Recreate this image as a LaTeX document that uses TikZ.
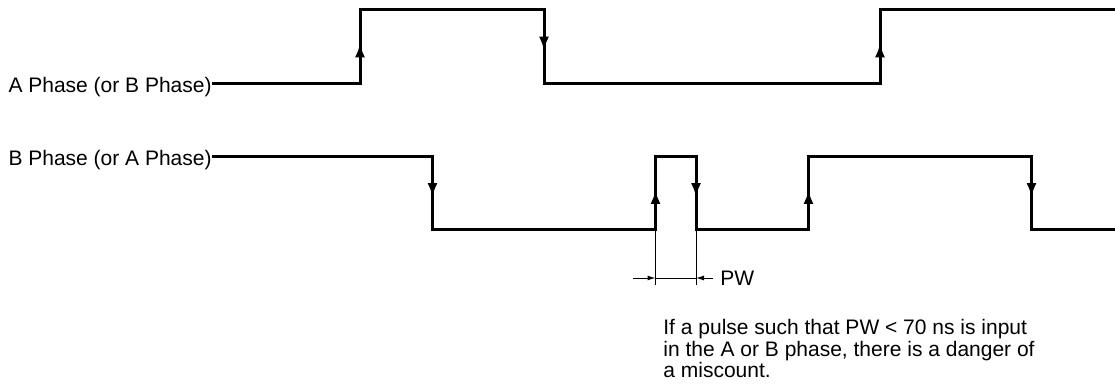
\documentclass[tikz,border=0pt]{standalone}
\usepackage{fontspec}
\setmainfont{Liberation Sans}
\usetikzlibrary{arrows.meta,calc,decorations.markings}

\begin{document}
\begin{tikzpicture}[x=0.5pt,y=-0.5pt,
  wave/.style={line width=1.5pt,line join=miter},
  edgemark/.style={postaction={decorate},decoration={markings,
    mark=at position 0.55 with {\arrow{Latex[length=7pt,width=5pt]}}}},
  thinline/.style={line width=0.5pt},
  dimarrow/.style={line width=0.5pt,-{Latex[length=4pt,width=2.5pt]}},
  lab/.style={inner sep=0pt,font=\fontsize{10.5}{12}\selectfont}]
  \useasboundingbox (0,0) rectangle (1115,390);
  % A phase
  \coordinate (a0) at (212,84);
  \node[lab,anchor=base east] (labA) at (212,93) {A Phase (or B Phase)};
  \draw[wave] (a0) -- (360,84) -- (360,10) -- (544,10) -- (544,84) -- (880,84) -- (880,10) -- (1115,10);
  \draw[wave,edgemark] (360,84) -- (360,10);
  \draw[wave,edgemark] (544,10) -- (544,84);
  \draw[wave,edgemark] (880,84) -- (880,10);
  % B phase
  \coordinate (b0) at (212,157);
  \node[lab,anchor=base east] (labB) at (212,166) {B Phase (or A Phase)};
  \coordinate (p1) at (655.5,230); \coordinate (p2) at (696,230);
  \draw[wave] (b0) -- (432.5,157) -- (432.5,230) -- (p1) -- (655.5,157) -- (696,157) -- (p2) -- (808.5,230) -- (808.5,157) -- (1031.5,157) -- (1031.5,230) -- (1115,230);
  \draw[wave,edgemark] (432.5,157) -- (432.5,230);
  \draw[wave,edgemark] (p1) -- (655.5,157);
  \draw[wave,edgemark] (696,157) -- (p2);
  \draw[wave,edgemark] (808.5,230) -- (808.5,157);
  \draw[wave,edgemark] (1031.5,157) -- (1031.5,230);
  % pulse width
  \coordinate (e1) at (655.5,285); \coordinate (e2) at (696,285);
  \draw[thinline] (p1) -- (e1);
  \draw[thinline] (p2) -- (e2);
  \coordinate (w1) at (655.5,278); \coordinate (w2) at (696,278);
  \draw[thinline] (w1) -- (w2);
  \draw[dimarrow] (633,278) -- (w1);
  \draw[dimarrow] (713,278) -- (w2);
  \node[lab,anchor=west] (pw) at (720,278) {PW};
  \node[lab,anchor=north west,align=left,font=\fontsize{10.5}{9.6}\selectfont] (note) at (663,319)
    {If a pulse such that PW < 70 ns is input\\in the A or B phase, there is a danger of\\a miscount.};
\end{tikzpicture}
\end{document}
